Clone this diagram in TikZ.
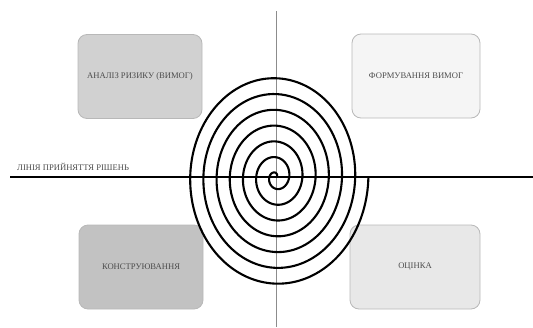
\documentclass[tikz,border=0pt]{standalone}
\usepackage{fontspec}
\setmainfont{Liberation Serif}
\begin{document}
\begin{tikzpicture}[x=1pt,y=-1pt,
  phase/.style={draw=black!28, line width=0.8pt, rounded corners=9pt, minimum height=84pt,
     inner sep=1pt, font=\fontsize{8.6}{9}\selectfont, text=black!70},
  axis/.style={draw=black!45, line width=0.9pt},
  decision/.style={draw=black, line width=2.6pt},
  spiral/.style={draw=black, line width=2.1pt, line join=round}]
\useasboundingbox (0,0) rectangle (533,327);
\node[phase, fill=black!18, minimum width=124pt] (analysis) at (140,76.5) {АНАЛІЗ РИЗИКУ (ВИМОГ)};
\node[phase, fill=black!4, minimum width=128pt] (requirements) at (416,76) {ФОРМУВАННЯ ВИМОГ};
\node[phase, fill=black!24, minimum width=124pt] (construction) at (141,267) {КОНСТРУЮВАННЯ};
\node[phase, fill=black!9, minimum width=130pt] (evaluation) at (415,267) {ОЦІНКА};
\coordinate (vtop) at (276,11);
\coordinate (vbot) at (276,327);
\draw[axis] (vtop) -- (vbot);
\draw[spiral] plot[domain=0:2520, samples=700, smooth]
  ({276 + (\x/360)*13.2*cos(\x)}, {177 - (\x/360)*15.8*sin(\x)});
\coordinate (hleft) at (10,177);
\coordinate (hright) at (533,177);
\draw[decision] (hleft) -- (hright);
\node[anchor=base west, inner sep=0pt, font=\fontsize{8.6}{9}\selectfont, text=black!70] (label) at (17,170) {ЛІНІЯ ПРИЙНЯТТЯ РІШЕНЬ};
\end{tikzpicture}
\end{document}
